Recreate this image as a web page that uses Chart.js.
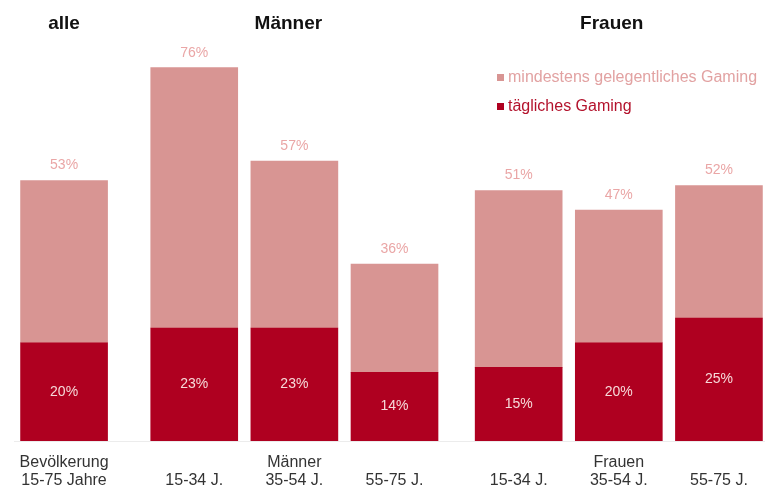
<!DOCTYPE html>
<html lang="de">
<head>
<meta charset="utf-8">
<title>Gaming nach Alter und Geschlecht</title>
<script src="https://cdn.jsdelivr.net/npm/chart.js@4.4.1/dist/chart.umd.min.js"></script>
<style>
  html, body { margin: 0; padding: 0; background: #fff; }
  #wrap { position: relative; width: 765px; height: 489px; }
</style>
</head>
<body>
<div id="wrap"><canvas id="gamingChart"></canvas></div>
<script>
// Kategorien (zweizeilige Achsenbeschriftung) und Gruppen
const categories = [
    ['Bevölkerung', '15-75 Jahre'],
    ['', '15-34 J.'],
    ['Männer', '35-54 J.'],
    ['', '55-75 J.'],
    ['', '15-34 J.'],
    ['Frauen', '35-54 J.'],
    ['', '55-75 J.']
];
const groupOf = [0, 1, 1, 1, 2, 2, 2];
const groupNames = ['alle', 'Männer', 'Frauen'];

// Werte in Prozent
const gesamt       = [53, 76, 57, 36, 51, 47, 52];
const taeglich     = [20, 23, 23, 14, 15, 20, 25];
const gelegentlich = [33, 53, 34, 22, 36, 27, 27];

const seriesNames = ['tägliches Gaming', 'mindestens gelegentliches Gaming'];

// layout: extra space in front of each group, header nudge
const groupShift = [0, 0.3, 0.54];
const headerNudge = [0, -0.06, -0.07];
const xPos = categories.map((c, i) => i + groupShift[groupOf[i]]);
const headerPos = groupNames.map((g, gi) => {
    const p = xPos.filter((v, i) => groupOf[i] === gi);
    return p[Math.floor(p.length / 2)] + headerNudge[gi];
});

const DARK = '#af0020';
const LIGHT = '#d89593';
const FONT = "'Liberation Sans', Arial, sans-serif";

// value labels: totals above, daily inside the dark part
const valueLabels = {
    id: 'valueLabels',
    afterDatasetsDraw(chart) {
        const ctx = chart.ctx;
        const dark = chart.getDatasetMeta(0).data;
        const light = chart.getDatasetMeta(1).data;
        ctx.save();
        ctx.font = '14px ' + FONT;
        ctx.textAlign = 'center';
        ctx.textBaseline = 'middle';
        light.forEach((el, i) => {
            ctx.fillStyle = '#eaa6a6';
            ctx.fillText(gesamt[i] + '%', el.x, el.y - 15);
        });
        dark.forEach((el, i) => {
            ctx.fillStyle = '#f6d9d9';
            ctx.fillText(taeglich[i] + '%', el.x, (el.y + el.base) / 2);
        });
        ctx.restore();
    }
};

// legend at the top right, text in series colour
const cornerLegend = {
    id: 'cornerLegend',
    afterDraw(chart) {
        const ctx = chart.ctx;
        const items = chart.data.datasets.slice().reverse();
        const textCols = ['#e2a2a2', '#b3122c'];
        ctx.save();
        ctx.font = '16px ' + FONT;
        ctx.textBaseline = 'middle';
        items.forEach((ds, k) => {
            const y = 78 + k * 29;
            ctx.fillStyle = ds.backgroundColor;
            ctx.fillRect(497, y - 4, 7, 7);
            ctx.fillStyle = textCols[k];
            ctx.fillText(ds.label, 508, y);
        });
        ctx.restore();
    }
};

new Chart(document.getElementById('gamingChart'), {
    type: 'bar',
    data: {
        datasets: [
            {
                label: seriesNames[0],
                data: taeglich.map((v, i) => ({ x: xPos[i], y: v })),
                backgroundColor: DARK
            },
            {
                label: seriesNames[1],
                data: gelegentlich.map((v, i) => ({ x: xPos[i], y: v })),
                backgroundColor: LIGHT
            }
        ]
    },
    options: {
        responsive: true,
        maintainAspectRatio: false,
        animation: false,
        barThickness: 87,
        layout: { padding: { left: 14, right: 0, top: 0, bottom: 0 } },
        plugins: {
            legend: { display: false },
            tooltip: { enabled: false }
        },
        scales: {
            x: {
                type: 'linear',
                stacked: true,
                offset: false,
                min: -0.5,
                max: 7.0,
                grid: { display: false, drawTicks: false, offset: false },
                border: { display: true, color: '#ececec', width: 1 },
                afterBuildTicks: axis => { axis.ticks = xPos.map(v => ({ value: v })); },
                afterFit: axis => { axis.height = 48; },
                ticks: {
                    autoSkip: false,
                    maxRotation: 0,
                    padding: 12,
                    color: '#333',
                    font: { family: FONT, size: 16, lineHeight: 1.15 },
                    callback: (value, index) => categories[index]
                }
            },
            xTop: {
                type: 'linear',
                position: 'top',
                offset: false,
                min: -0.5,
                max: 7.0,
                grid: { display: false, drawTicks: false, offset: false },
                border: { display: false },
                afterBuildTicks: axis => { axis.ticks = headerPos.map(v => ({ value: v })); },
                afterFit: axis => { axis.height = 48; },
                ticks: {
                    autoSkip: false,
                    maxRotation: 0,
                    padding: 13,
                    color: '#111',
                    font: { family: FONT, size: 19, weight: 'bold' },
                    callback: (value, index) => groupNames[index]
                }
            },
            y: {
                display: false,
                stacked: true,
                min: 0,
                max: 80
            }
        }
    },
    plugins: [valueLabels, cornerLegend]
});
</script>
</body>
</html>
